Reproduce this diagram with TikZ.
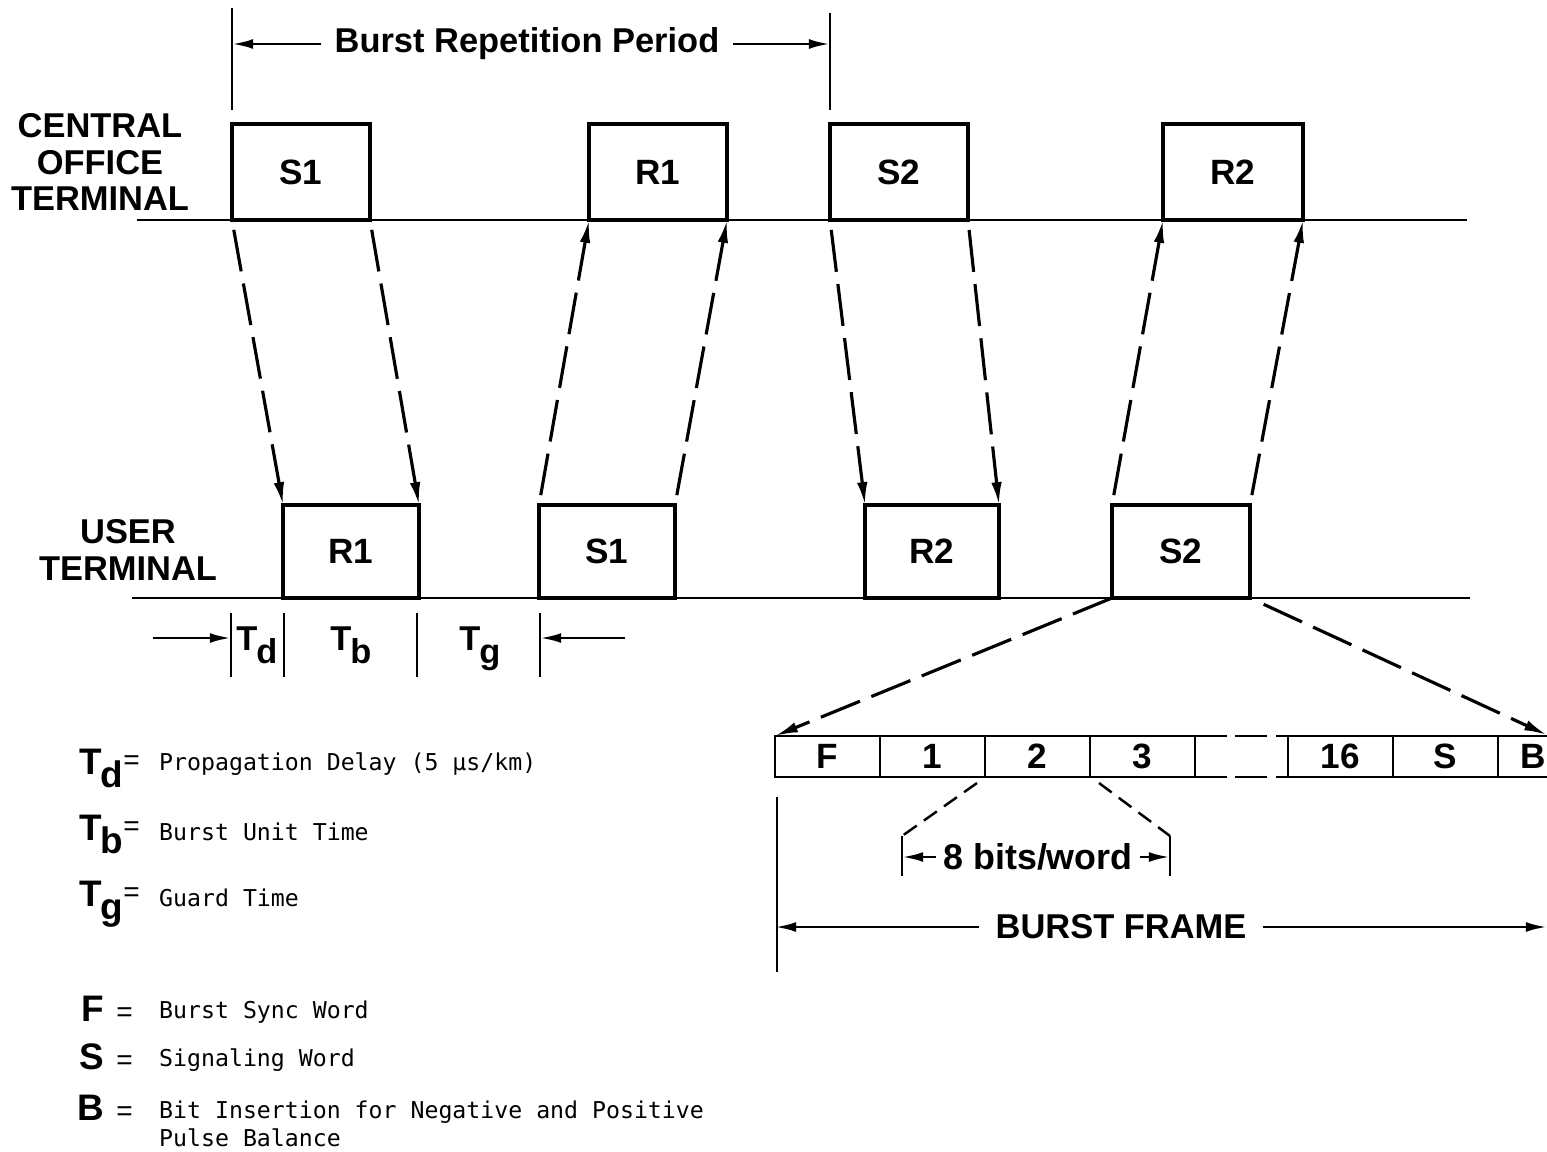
\documentclass[tikz,border=0pt]{standalone}
\usepackage{fontspec}
\setmainfont{Liberation Sans}
\newfontfamily\monofont{DejaVu Sans Mono}
\usetikzlibrary{arrows.meta,positioning}

\newcommand\tsym[1]{T\kern-0.3pt\raisebox{-1.3mm}{#1}}

\tikzset{
  slot/.style={draw,line width=1.2pt,minimum width=13.8mm,minimum height=9.6mm,inner sep=0pt,outer sep=0pt,anchor=south west,font=\bfseries\fontsize{10}{12}\selectfont},
  uslot/.style={slot,minimum height=9.3mm},
  cell/.style={draw,line width=0.7pt,minimum width=10.5mm,minimum height=4.1mm,inner sep=0pt,outer sep=0pt,font=\bfseries\fontsize{10}{12}\selectfont},
  lbl/.style={font=\bfseries\fontsize{9.8}{10.5}\selectfont,align=center,inner sep=0pt},
  dimlbl/.style={lbl,inner xsep=1.5mm},
  legsym/.style={font=\bfseries\fontsize{10.5}{12}\selectfont,anchor=base east,inner sep=0pt},
  legtxt/.style={font=\monofont\fontsize{6.6}{7.7}\selectfont,anchor=base west,align=left,inner sep=0pt},
  flight/.style={line width=0.9pt,dash pattern=on 12pt off 3.5pt,-{Latex[length=6.5pt,width=3pt]}},
  wdash/.style={line width=0.7pt,dash pattern=on 4.5pt off 2.5pt},
  gapdash/.style={line width=0.7pt,dash pattern=on 9pt off 2.5pt},
  dim/.style={line width=0.8pt,-{Latex[length=6pt,width=2.8pt]}},
}

\begin{document}
\begin{tikzpicture}[x=0.1mm,y=-0.1mm,line width=0.7pt]
\fill[white] (0,0) rectangle (1547,1151);
\useasboundingbox (0,0) rectangle (1547,1151);

% burst repetition period
\draw (232,8) -- (232,110);
\draw (830,13) -- (830,110);
\coordinate (brpL) at (232,42);
\coordinate (brpR) at (830,42);
\node[dimlbl,inner xsep=1.2mm] (brp) at (527,44) {Burst Repetition Period};
\draw[dim] (brp.west) -- (brp.west -| brpL);
\draw[dim] (brp.east) -- (brp.east -| brpR);

% terminals
\node[lbl] (coLbl) at (100,162) {CENTRAL\\OFFICE\\TERMINAL};
\node[lbl] (uLbl) at (128,550) {USER\\TERMINAL};
\draw (137,220) -- (1467,220);
\draw (132,598) -- (1470,598);

\node[slot] (coS1) at (232,220) {S1};
\node[slot] (coR1) at (589,220) {R1};
\node[slot] (coS2) at (830,220) {S2};
\node[slot,minimum width=14mm] (coR2) at (1163,220) {R2};

\node[uslot,minimum width=13.6mm] (uR1) at (283,598) {R1};
\node[uslot,minimum width=13.6mm] (uS1) at (539,598) {S1};
\node[uslot,minimum width=13.4mm] (uR2) at (865,598) {R2};
\node[uslot] (uS2) at (1112,598) {S2};

% bursts in flight
\draw[flight,shorten <=1mm] (coS1.south west) -- (uR1.north west);
\draw[flight,shorten <=1mm] (coS1.south east) -- (uR1.north east);
\draw[flight,shorten <=1mm] (uS1.north west) -- (coR1.south west);
\draw[flight,shorten <=1mm] (uS1.north east) -- (coR1.south east);
\draw[flight,shorten <=1mm] (coS2.south west) -- (uR2.north west);
\draw[flight,shorten <=1mm] (coS2.south east) -- (uR2.north east);
\draw[flight,shorten <=1mm] (uS2.north west) -- (coR2.south west);
\draw[flight,shorten <=1mm] (uS2.north east) -- (coR2.south east);

% timing
\foreach \x in {231,284,417,540} {
\draw (\x,613) -- (\x,677);}
\coordinate (tdL) at (231,638);
\coordinate (tgR) at (540,638);
\draw[dim] (153,638) -- (tdL);
\draw[dim] (625,638) -- (tgR);
\node[lbl,anchor=base] (td) at (257,650) {\tsym{d}};
\node[lbl,anchor=base] (tb) at (351,650) {\tsym{b}};
\node[lbl,anchor=base] (tg) at (480,650) {\tsym{g}};

% burst frame
\node[cell,anchor=south west] (fF) at (775,777) {F};
\node[cell,right=0pt of fF] (f1) {1};
\node[cell,right=0pt of f1] (f2) {2};
\node[cell,right=0pt of f2] (f3) {3};
\node[cell,anchor=south west] (f16) at (1288,777) {16};
\node[cell,right=0pt of f16] (fS) {S};
\node[cell,right=0pt of fS,minimum width=7mm] (fB) {B};
\draw[gapdash] (f3.north east) -- (f16.north west);
\draw[gapdash] (f3.south east) -- (f16.south west);

\coordinate (bEnd) at (1547,735);
\draw[flight] (uS2.south west) -- (fF.north west);
\draw[flight,shorten <=1.5mm] (uS2.south east) -- (bEnd);

% 8 bits/word
\coordinate (bwL) at (902,836);
\coordinate (bwR) at (1170,836);
\draw[wdash] ([xshift=-0.8mm,yshift=-0.6mm]f1.south east) -- (bwL);
\draw[wdash] ([xshift=0.9mm,yshift=-0.6mm]f2.south east) -- (bwR);
\draw (bwL) -- ++(0,40);
\draw (bwR) -- ++(0,40);
\node[dimlbl,inner xsep=0.6mm,font=\bfseries\fontsize{10.2}{12}\selectfont] (bw) at (1038,857) {8 bits/word};
\draw[dim] (bw.west) -- (bw.west -| bwL);
\draw[dim] (bw.east) -- (bw.east -| bwR);

\draw (777,797) -- (777,972);
\coordinate (bfEnd) at (1547,927);
\node[dimlbl] (bf) at (1121,927) {BURST FRAME};
\draw[dim] (bf.west) -- (bf.west -| fF.west);
\draw[dim] (bf.east) -- (bfEnd);

% legend
\node[legsym] (kTd) at (141,774) {\tsym{d}\raisebox{0.5mm}{\mdseries\fontsize{8}{8}\selectfont=}};
\node[legtxt] (kTdT) at (158,770) {Propagation Delay (5 µs/km)};
\node[legsym] (kTb) at (141,840) {\tsym{b}\raisebox{0.5mm}{\mdseries\fontsize{8}{8}\selectfont=}};
\node[legtxt] (kTbT) at (158,840) {Burst Unit Time};
\node[legsym] (kTg) at (141,906) {\tsym{g}\raisebox{0.5mm}{\mdseries\fontsize{8}{8}\selectfont=}};
\node[legtxt] (kTgT) at (158,906) {Guard Time};
\node[legsym] (kF) at (134,1021) {F\kern1.2mm{\mdseries\fontsize{8}{8}\selectfont=}};
\node[legtxt] (kFT) at (158,1018) {Burst Sync Word};
\node[legsym] (kS) at (134,1069) {S\kern1.2mm{\mdseries\fontsize{8}{8}\selectfont=}};
\node[legtxt] (kST) at (158,1066) {Signaling Word};
\node[legsym] (kB) at (134,1120) {B\kern1.2mm{\mdseries\fontsize{8}{8}\selectfont=}};
\node[legtxt] (kBT) at (158,1146) {Bit Insertion for Negative and Positive\\Pulse Balance};
\end{tikzpicture}
\end{document}
